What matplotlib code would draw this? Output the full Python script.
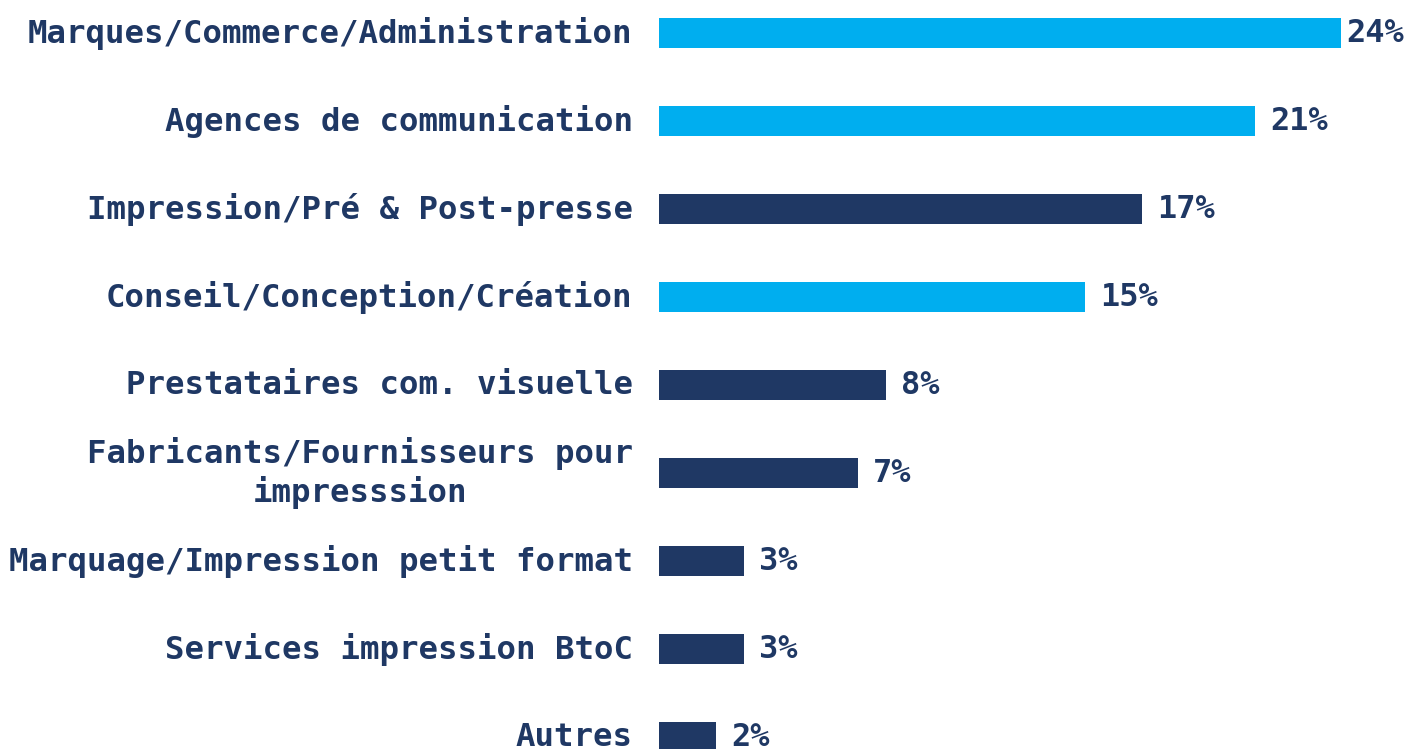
import matplotlib
matplotlib.use("Agg")
import matplotlib.pyplot as plt

categories = [
    "Marques/Commerce/Administration",
    "Agences de communication",
    "Impression/Pré & Post-presse",
    "Conseil/Conception/Création",
    "Prestataires com. visuelle",
    "Fabricants/Fournisseurs pour\nimpresssion",
    "Marquage/Impression petit format",
    "Services impression BtoC",
    "Autres",
]
values = [24, 21, 17, 15, 8, 7, 3, 3, 2]
highlight = [True, True, False, True, False, False, False, False, False]

light_blue = "#00AEEF"
navy = "#1F3864"
colors = [light_blue if h else navy for h in highlight]

fig = plt.figure(figsize=(14.16, 7.49), dpi=100)
ax = fig.add_axes([659 / 1416, 0, 1 - 659 / 1416, 1])

pos = list(range(len(values)))
bars = ax.barh(pos, values, height=0.34, color=colors)
# first label sits close to the edge, so it gets less padding
for i, (b, v) in enumerate(zip(bars, values)):
    pad = 0.2 if i == 0 else 0.53
    ax.text(v + pad, i, f"{v}%", va="center", ha="left",
            fontsize=23, fontweight="bold", color=navy,
            fontfamily="DejaVu Sans Mono")

ax.set_xlim(0, 757 / 28.4)
ax.set_ylim(8.136, -0.375)
ax.set_yticks(pos)
ax.set_yticklabels(categories, fontsize=23.3, fontweight="bold", color=navy,
                   fontfamily="DejaVu Sans Mono", multialignment="center",
                   va="center")
ax.tick_params(axis="y", length=0, pad=19)
ax.set_xticks([])
for s in ax.spines.values():
    s.set_visible(False)

fig.savefig("out.png", dpi=100)
